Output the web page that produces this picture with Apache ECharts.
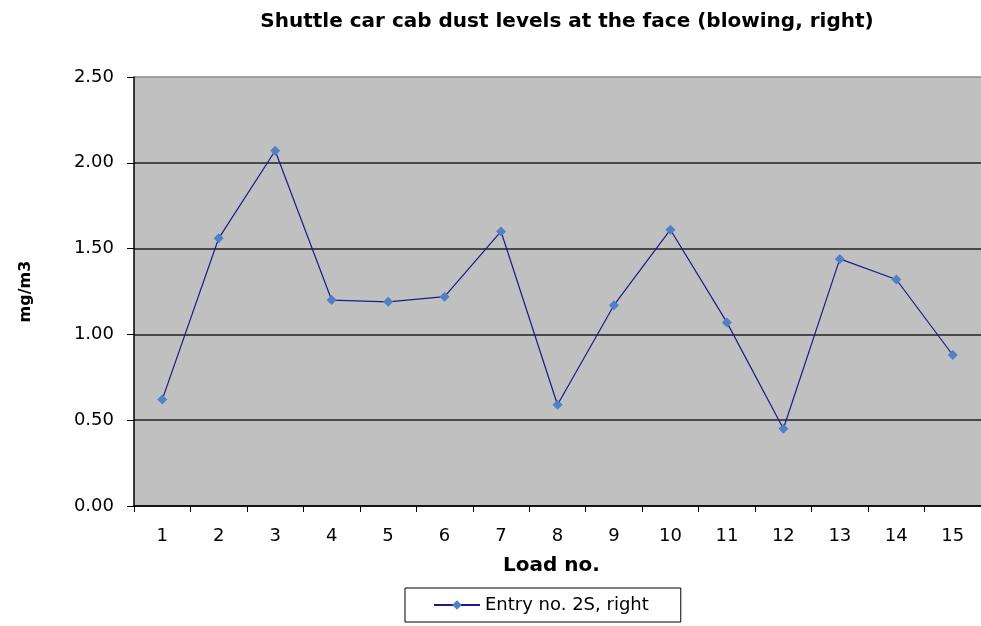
<!DOCTYPE html>
<html>
<head>
<meta charset="utf-8">
<script src="https://cdn.jsdelivr.net/npm/echarts@6/dist/echarts.min.js"></script>
<style>
  html, body { margin: 0; padding: 0; background: #fff; }
  #chart { width: 981px; height: 626px; }
</style>
</head>
<body>
<div id="chart"></div>
<script>
// load numbers on the x axis
var loads = ['1', '2', '3', '4', '5', '6', '7', '8', '9', '10', '11', '12', '13', '14', '15'];
// dust level per load, mg/m3
var dust = [0.62, 1.56, 2.07, 1.20, 1.19, 1.22, 1.60, 0.59, 1.17, 1.61, 1.07, 0.45, 1.44, 1.32, 0.88];
var seriesName = 'Entry no. 2S, right';

var chart = echarts.init(document.getElementById('chart'));
var font = 'DejaVu Sans, Verdana, sans-serif';

chart.setOption({
  animation: false,
  textStyle: { fontFamily: font },
  title: {
    text: 'Shuttle car cab dust levels at the face (blowing, right)',
    left: 562,
    textAlign: 'center',
    top: 7,
    textStyle: { fontSize: 20, fontWeight: 'bold', color: '#000', fontFamily: font }
  },
  legend: {
    data: [seriesName],
    left: 405,
    top: 588,
    itemWidth: 46,
    itemHeight: 12,
    itemGap: 5,
    padding: [8, 32, 8, 28],
    borderColor: '#000',
    borderWidth: 1,
    textStyle: { fontSize: 18, color: '#000', fontFamily: font }
  },
  grid: {
    left: 134,
    top: 77,
    right: -2,
    bottom: 120,
    show: true,
    backgroundColor: '#C0C0C0',
    borderWidth: 0
  },
  xAxis: {
    type: 'category',
    data: loads,
    boundaryGap: true,
    name: 'Load no.',
    nameLocation: 'middle',
    nameGap: 50,
    nameTextStyle: { fontSize: 20, fontWeight: 'bold', color: '#000', verticalAlign: 'top', padding: [0, 0, 0, -12] },
    axisLine: { lineStyle: { color: '#000', width: 1.5 } },
    axisTick: { show: true, length: 6, lineStyle: { color: '#000' } },
    axisLabel: { fontSize: 18, color: '#000', margin: 21 },
    splitLine: { show: false }
  },
  yAxis: {
    type: 'value',
    min: 0,
    max: 2.5,
    interval: 0.5,
    name: 'mg/m3',
    nameLocation: 'middle',
    nameGap: 100,
    nameRotate: 90,
    nameTextStyle: { fontSize: 16, fontWeight: 'bold', color: '#000' },
    axisLine: { show: true, lineStyle: { color: '#000', width: 1.5 } },
    axisTick: { show: true, length: 7, lineStyle: { color: '#000' } },
    axisLabel: {
      fontSize: 18, color: '#000', margin: 20,
      formatter: function (v) { return v.toFixed(2); }
    },
    splitLine: {
      show: true,
      lineStyle: { color: ['#222', '#222', '#222', '#222', '#222', '#8c8c8c'], width: 1.5 }
    }
  },
  series: [{
    name: seriesName,
    type: 'line',
    data: dust,
    symbol: 'diamond',
    symbolSize: 10,
    lineStyle: { color: '#1a1a8c', width: 1.2 },
    itemStyle: { color: '#4f81c6', borderWidth: 0 },
    z: 3
  }]
});
</script>
</body>
</html>
